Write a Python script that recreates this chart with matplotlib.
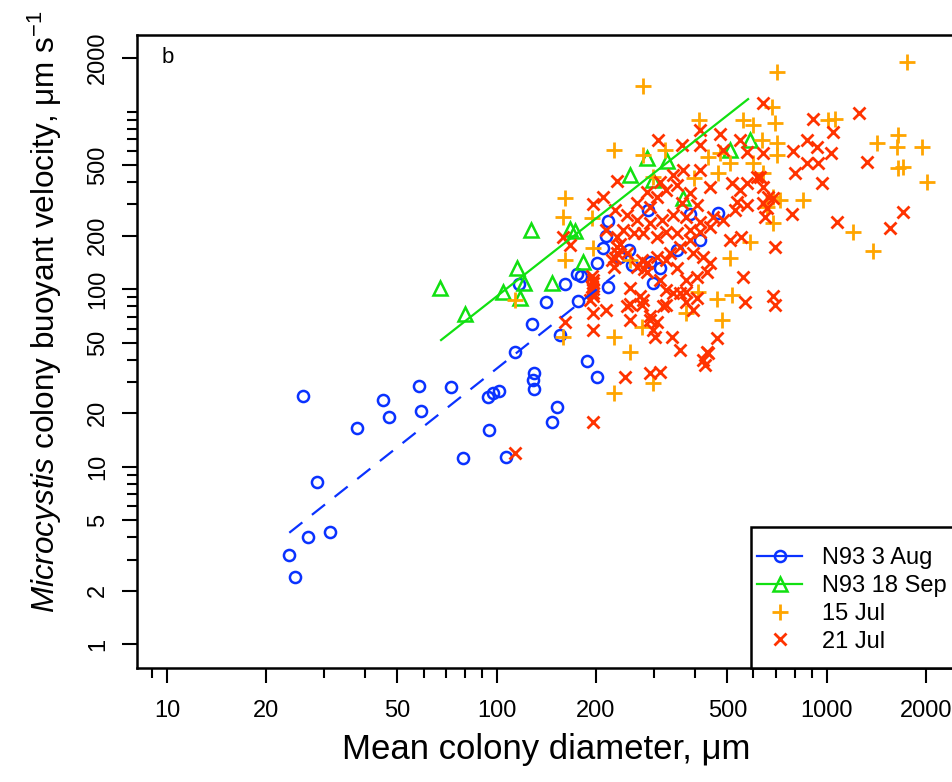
import matplotlib
matplotlib.use("Agg")
import matplotlib.pyplot as plt
from matplotlib.lines import Line2D
from matplotlib.patches import Rectangle
from matplotlib.ticker import FixedLocator, NullFormatter, FixedFormatter
from matplotlib import font_manager

plt.rcParams['font.family'] = ['Liberation Sans', 'DejaVu Sans']
plt.rcParams['mathtext.fontset'] = 'custom'
plt.rcParams['mathtext.rm'] = 'Liberation Sans'
plt.rcParams['mathtext.it'] = 'Liberation Sans:italic'

_names = {f.name for f in font_manager.fontManager.ttflist}
if 'Liberation Sans Narrow' in _names:
    narrow_family, tick_size, xlab_size = 'Liberation Sans Narrow', 19, 29
else:
    narrow_family, tick_size, xlab_size = 'Liberation Sans', 17, 25

# ---------------- data ----------------
blue_x = [25.8, 45.3, 58.0, 72.7, 37.8, 47.2, 59.1, 94.3, 97.7, 101.8, 95.0, 79.2, 106.6,
          28.6, 26.7, 31.3, 23.5, 24.5, 113.6, 129.7, 128.5, 130.0, 146.8, 152.5, 117.0,
          128.2, 140.7, 161.1, 155.5, 176.6, 174.6, 180.0, 188.2, 201.0, 201.0, 216.9,
          213.8, 209.6, 216.9, 287.9, 298.3, 236.4, 256.6,
          291.5, 351, 413, 469, 385, 313, 251]
blue_y = [25.1, 23.8, 28.6, 28.2, 16.5, 19.0, 20.6, 24.8, 25.9, 26.7, 16.2, 11.2, 11.4,
          8.24, 4.04, 4.31, 3.18, 2.40, 44.1, 33.8, 30.8, 27.4, 17.9, 21.8, 106.8,
          63.6, 84.3, 106.8, 55.2, 85.7, 121.6, 118.9, 39.5, 31.9, 139.7, 242.7,
          199.0, 169.8, 103.2, 278.8, 107.9, 152.2, 136.7,
          143, 167, 189, 270, 266, 131, 166]

green_x = [67.3, 80.2, 104.2, 115.4, 121.0, 126.8, 146.8, 166.7, 172.6, 182.9, 253, 285,
           298, 328, 368, 509, 586, 117.7]
green_y = [101, 72.4, 96.6, 131, 107.8, 215, 107.8, 218, 212, 143, 439, 547,
           411, 526, 326, 607, 691, 88.8]

orange_x = [278, 709, 1754, 681, 411, 556, 599, 697, 1011, 1060, 226, 278, 323, 438, 635,
            706, 706, 1418, 1649, 1631, 1940, 1649, 1707, 2010, 509, 599, 298, 395, 469,
            643, 850, 689, 658, 689, 161, 159, 195, 1204, 1384, 161, 196, 226, 253, 275,
            376, 408, 464, 518, 481, 509, 586, 722, 159, 226, 298, 253, 113.5, 475]
orange_y = [1397, 1663, 1892, 1064, 896, 896, 840, 859, 896, 904, 607, 569, 607, 557, 691,
            662, 569, 662, 737, 634, 634, 479, 489, 403, 511, 511, 430, 425, 449,
            449, 318, 331, 291, 235, 324, 256, 251, 211, 163, 146, 170, 54, 44, 61,
            73, 96, 88, 93, 67, 149, 185, 318, 54, 25.9, 29.5, 146, 87, 582]

red_x = [640, 1256, 911, 1047, 309, 364, 413, 475, 546, 413, 486, 572, 643, 792, 870, 932,
         1030, 1322, 870, 943, 802, 966, 231, 210, 196, 1707, 1556, 1072, 783, 658, 689,
         628, 546, 572, 643, 614, 515, 443, 385, 404, 364, 327, 305, 285, 266, 292, 343,
         351, 313, 368, 413, 534, 572, 643, 528, 453, 413, 376, 343, 316, 292, 266, 248,
         228, 215, 231, 242, 260, 278, 305, 327, 351, 385, 413, 443, 486, 385, 359, 335,
         394, 423, 443, 433, 404, 376, 351, 327, 305, 285, 266, 248, 231, 223, 226, 196,
         194, 196, 192, 278, 275, 313, 327, 359, 376, 404, 320, 292, 298, 302, 253, 248,
         215, 196, 196, 161, 167, 159, 509, 552, 650, 697, 666, 559, 565, 689, 697, 464,
         433, 423, 359, 339, 394, 292, 313, 245, 428, 438, 253, 343, 327, 253, 272, 292,
         305, 376, 113.5, 196, 196, 196, 196, 194, 231, 228, 236, 280, 285, 275]
red_y = [1112, 977, 907, 769, 691, 648, 787, 745, 691, 648, 607, 594, 582, 600, 691, 628,
         582, 520, 511, 516, 449, 394, 406, 331, 300, 273, 220, 240, 264, 285, 324,
         430, 361, 394, 377, 430, 394, 377, 346, 297, 304, 361, 331, 353, 304, 291, 439,
         386, 403, 469, 469, 311, 297, 304, 279, 256, 240, 256, 261, 245, 235, 245, 261,
         279, 215, 197, 215, 206, 206, 197, 211, 206, 215, 211, 225, 245, 189, 173, 159,
         159, 152, 140, 125, 117, 113, 131, 146, 152, 140, 134, 159, 173, 146, 134, 113,
         103, 95, 87, 87, 81, 113, 99, 95, 85, 89, 80, 67, 59, 54, 67, 80,
         76, 73, 59, 65.5, 177, 197, 189, 197, 256, 173, 331, 117, 85, 91, 81, 53,
         44.5, 40, 45.4, 54, 76, 33.6, 34.3, 32.2, 37.4, 43.5, 83, 95, 81, 101, 91, 71,
         65.5, 97, 11.9, 17.9, 108, 100, 92, 118, 160, 150, 180, 130, 125, 145]

fit_blue_x = [23.5, 228]
fit_blue_y = [4.25, 120]
fit_green_x = [67.8, 578]
fit_green_y = [51.7, 1175]

x_major = [10, 20, 50, 100, 200, 500, 1000, 2000]
x_minor = [9, 30, 40, 60, 70, 80, 90, 300, 400, 600, 700, 800, 900, 3000]
y_major = [1, 2, 5, 10, 20, 50, 100, 200, 500, 2000]
y_minor = [3, 4, 6, 7, 8, 9, 30, 40, 60, 70, 80, 90, 300, 400, 600, 700, 800, 900, 1000]

legend_labels = ['N93 3 Aug', 'N93 18 Sep', '15 Jul', '21 Jul']

c_blue = '#0a32ff'
c_green = '#11e011'
c_orange = '#ffa500'
c_red = '#ff3300'

# ---------------- figure ----------------
W, H = 952, 782
fig = plt.figure(figsize=(W / 100, H / 100), dpi=100)
ax_l, ax_r, ax_t, ax_b = 136.7, 984.0, 35.0, 668.0
ax = fig.add_axes([ax_l / W, 1 - ax_b / H, (ax_r - ax_l) / W, (ax_b - ax_t) / H])
ax.set_xscale('log')
ax.set_yscale('log')
ax.set_xlim(8.1, 3000)
ax.set_ylim(0.736, 2698)

ax.plot(blue_x, blue_y, linestyle='none', marker='o', ms=8, mfc='none', mec=c_blue, mew=1.8)
ax.plot(green_x, green_y, linestyle='none', marker='^', ms=10, mfc='none', mec=c_green, mew=1.8)
ax.plot(orange_x, orange_y, linestyle='none', marker='+', ms=12, mec=c_orange, mew=2.0)
ax.plot(red_x, red_y, linestyle='none', marker='x', ms=9, mec=c_red, mew=2.0)
ax.plot(fit_blue_x, fit_blue_y, color=c_blue, lw=1.6, dashes=(7.5, 5.5))
ax.plot(fit_green_x, fit_green_y, color=c_green, lw=1.6)

for s in ax.spines.values():
    s.set_linewidth(1.8)

ax.xaxis.set_major_locator(FixedLocator(x_major))
ax.xaxis.set_major_formatter(FixedFormatter([str(v) for v in x_major]))
ax.xaxis.set_minor_locator(FixedLocator(x_minor))
ax.xaxis.set_minor_formatter(NullFormatter())
ax.yaxis.set_major_locator(FixedLocator(y_major))
ax.yaxis.set_major_formatter(FixedFormatter([str(v) for v in y_major]))
ax.yaxis.set_minor_locator(FixedLocator(y_minor))
ax.yaxis.set_minor_formatter(NullFormatter())

ax.tick_params(which='major', length=10.8, width=1.5, direction='out', labelsize=tick_size)
ax.tick_params(which='minor', length=7.2, width=1.5, direction='out')
ax.tick_params(axis='x', which='major', pad=12)
ax.tick_params(axis='y', which='major', pad=9)
for lab in ax.get_xticklabels():
    lab.set_family(narrow_family)
for lab in ax.get_yticklabels():
    lab.set_rotation(90)
    lab.set_va('center')
    lab.set_family(narrow_family)

ax.text(0.029, 0.9637, 'b', transform=ax.transAxes, fontsize=16, va='center', ha='left')

fig.text(0.5 * (340 + 752) / W, 1 - 750 / H, 'Mean colony diameter, μm', fontsize=xlab_size,
         ha='center', va='center', family=narrow_family)
fig.text(45 / W, 1 - 312 / H, r'$\mathit{Microcystis}$ colony buoyant velocity, μm s$^{-1}$',
         fontsize=22.7, rotation=90, ha='center', va='center')

# legend frame (drawn separately so the padding can match)
fig.add_artist(Rectangle((751 / W, 1 - 668 / H), (1010 - 751) / W, (668 - 527) / H,
                         transform=fig.transFigure, facecolor='white', edgecolor='black',
                         linewidth=1.8, zorder=3))

handles = [
    Line2D([], [], color=c_blue, lw=1.6, marker='o', ms=8, mfc='none', mec=c_blue, mew=1.8),
    Line2D([], [], color=c_green, lw=1.6, marker='^', ms=10, mfc='none', mec=c_green, mew=1.8),
    Line2D([], [], linestyle='none', marker='+', ms=12, mec=c_orange, mew=2.0),
    Line2D([], [], linestyle='none', marker='x', ms=9, mec=c_red, mew=2.0),
]
leg = fig.legend(handles, legend_labels,
                 loc='upper left', bbox_to_anchor=(757 / W, 1 - 547 / H),
                 fontsize=17, frameon=False, handlelength=1.92, handletextpad=0.85,
                 labelspacing=0.25, borderpad=0.0, borderaxespad=0)
leg.set_zorder(4)

fig.savefig('out.png', dpi=100)
